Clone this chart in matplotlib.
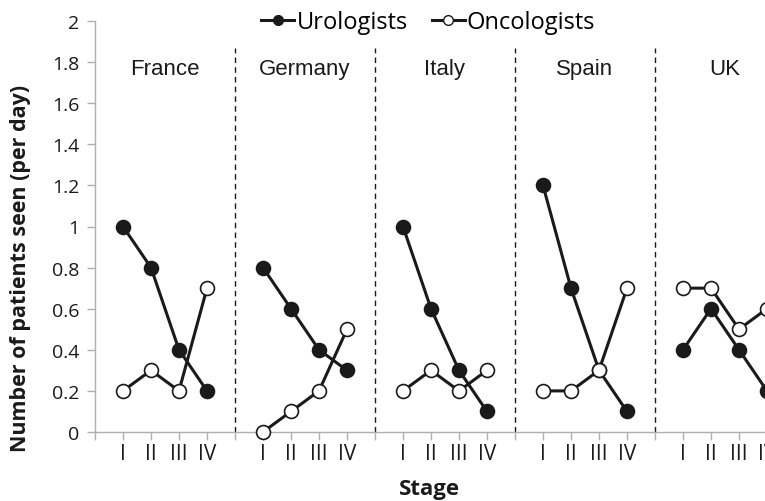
import matplotlib
matplotlib.use("Agg")
import matplotlib.pyplot as plt
from matplotlib.lines import Line2D

countries = ["France", "Germany", "Italy", "Spain", "UK"]
stages = ["I", "II", "III", "IV"]
urologists = {
    "France": [1.0, 0.8, 0.4, 0.2],
    "Germany": [0.8, 0.6, 0.4, 0.3],
    "Italy": [1.0, 0.6, 0.3, 0.1],
    "Spain": [1.2, 0.7, 0.3, 0.1],
    "UK": [0.4, 0.6, 0.4, 0.2],
}
oncologists = {
    "France": [0.2, 0.3, 0.2, 0.7],
    "Germany": [0.0, 0.1, 0.2, 0.5],
    "Italy": [0.2, 0.3, 0.2, 0.3],
    "Spain": [0.2, 0.2, 0.3, 0.7],
    "UK": [0.7, 0.7, 0.5, 0.6],
}
yticks = [0, 0.2, 0.4, 0.6, 0.8, 1, 1.2, 1.4, 1.6, 1.8, 2]
ytick_labels = ["0", "0.2", "0.4", "0.6", "0.8", "1", "1.2", "1.4", "1.6", "1.8", "2"]

fig = plt.figure(figsize=(7.65, 5.02), dpi=100)
ax = fig.add_axes([95 / 765, 69 / 502, 700 / 765, 411 / 502])

tick_font = "Open Sans"
grey = "#b0b0b0"
dark = "#1a1a1a"
lw = 2.2
ms = 10

xt_pos, xt_lab = [], []
for g, c in enumerate(countries):
    base = g * (len(stages) + 1) + 1
    xs = [base + i for i in range(len(stages))]
    xt_pos += xs
    xt_lab += stages
    ax.plot(xs, urologists[c], color=dark, lw=lw, marker="o", ms=ms,
            mfc=dark, mec=dark, mew=1.2, zorder=3, clip_on=False)
    ax.plot(xs, oncologists[c], color=dark, lw=lw, marker="o", ms=ms,
            mfc="white", mec=dark, mew=1.2, zorder=4, clip_on=False)
    ax.text(base + 1.5, 1.77, c, ha="center", va="center", fontsize=16,
            family="Liberation Sans", color=dark)
    if g > 0:
        sep = base - 1
        ax.plot([sep, sep], [0, 1.87], color=dark, lw=1, ls=(0, (4, 3)), zorder=2)

ax.set_xlim(0, 25)
ax.set_ylim(0, 2)
ax.set_xticks(range(0, 25))
ax.set_xticklabels([""] * 25)
for p, l in zip(xt_pos, xt_lab):
    ax.text(p, -0.107, l, ha="center", va="center", fontsize=15, family=tick_font,
            color=dark)
ax.set_yticks(yticks)
ax.set_yticklabels(ytick_labels, fontsize=14, family=tick_font, color=dark)
ax.tick_params(axis="both", color=grey, length=6, width=1)
ax.tick_params(axis="y", pad=5)
for s in ["top", "right"]:
    ax.spines[s].set_visible(False)
for s in ["left", "bottom"]:
    ax.spines[s].set_color(grey)
    ax.spines[s].set_linewidth(1)

fig.text(0.027, 0.465, "Number of patients seen (per day)", rotation=90, ha="center",
         va="center", fontsize=15.5, fontweight="bold", family=tick_font, color=dark)
fig.text(0.561, 0.024, "Stage", ha="center", va="center", fontsize=16,
         fontweight="bold", family=tick_font, color=dark)

handles = [
    Line2D([], [], color=dark, lw=lw, marker="o", ms=7, mfc=dark, mec=dark),
    Line2D([], [], color=dark, lw=lw, marker="o", ms=7, mfc="white", mec=dark),
]
fig.legend(handles, ["Urologists", "Oncologists"], loc="center", bbox_to_anchor=(0.56, 0.954),
           ncol=2, frameon=False, handlelength=1.4, handletextpad=0.1, columnspacing=1.0,
           borderpad=0.1, prop={"family": tick_font, "size": 17})

fig.savefig("out.png", dpi=100)
